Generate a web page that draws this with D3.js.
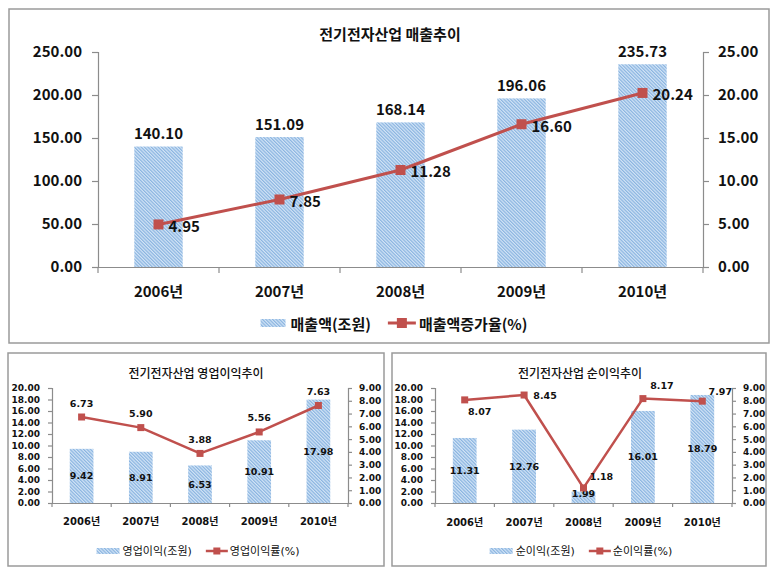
<!DOCTYPE html>
<html><head><meta charset="utf-8">
<script src="https://cdn.jsdelivr.net/npm/d3@7"></script>
<style>body{margin:0;background:#fff} svg{display:block}</style>
</head><body>
<script>
// ---------- data ----------
const years = ["2006년", "2007년", "2008년", "2009년", "2010년"];
const salesValues = [140.10, 151.09, 168.14, 196.06, 235.73];
const salesGrowth = [4.95, 7.85, 11.28, 16.60, 20.24];
const opProfit = [9.42, 8.91, 6.53, 10.91, 17.98];
const opMargin = [6.73, 5.90, 3.88, 5.56, 7.63];
const netProfit = [11.31, 12.76, 1.99, 16.01, 18.79];
const netMargin = [8.07, 8.45, 1.18, 8.17, 7.97];
const salesTicksLeft = [0, 50, 100, 150, 200, 250];
const salesTicksRight = [0, 5, 10, 15, 20, 25];
const profitTicksLeft = [0, 2, 4, 6, 8, 10, 12, 14, 16, 18, 20];
const profitTicksRight = [0, 1, 2, 3, 4, 5, 6, 7, 8, 9];

// ---------- drawing ----------
const W = 775, H = 572;
const svg = d3.select("body").append("svg").attr("width", W).attr("height", H);
const defs = svg.append("defs");
const pat = defs.append("pattern").attr("id", "hatch").attr("patternUnits", "userSpaceOnUse")
  .attr("width", 2.4).attr("height", 2.4).attr("patternTransform", "rotate(-45)");
pat.append("rect").attr("width", 2.4).attr("height", 2.4).attr("fill", "#d2e4f6");
pat.append("rect").attr("width", 1.2).attr("height", 2.4).attr("fill", "#8ab4e0");

const RED = "#c0504d", AXIS = "#8c8c8c";

function drawChart(c) {
  const g = svg.append("g");
  g.append("rect").attr("x", c.box[0]).attr("y", c.box[1]).attr("width", c.box[2]).attr("height", c.box[3])
    .attr("fill", "#fff").attr("stroke", "#9a9a9a").attr("stroke-width", 1.5);
  g.append("text").attr("x", c.titleX).attr("y", c.titleY).attr("text-anchor", "middle")
    .attr("dominant-baseline", "central").style("font-family", c.titleFont).style("font-size", c.titleSize + "px")
    .style("font-weight", c.titleWeight).attr("fill", "#111").text(c.title);

  const x = d3.scaleBand().domain(years).range([c.x0, c.x1]);
  const yL = d3.scaleLinear().domain(c.leftDomain).range([c.yBot, c.yTop]);
  const yR = d3.scaleLinear().domain(c.rightDomain).range([c.yBot, c.yTop]);
  const fmt = d3.format(".2f");
  const tf = (s, size) => s.style("font-family", c.font).style("font-size", (size || c.fontSize) + "px").style("font-weight", "bold").attr("fill", "#111");

  // axes
  const axL = g.append("g").attr("transform", `translate(${c.x0},0)`)
    .call(d3.axisLeft(yL).tickValues(c.ticksL).tickFormat(fmt).tickSize(c.tick).tickPadding(c.pad));
  const axR = g.append("g").attr("transform", `translate(${c.x1},0)`)
    .call(d3.axisRight(yR).tickValues(c.ticksR).tickFormat(fmt).tickSize(c.tick).tickPadding(c.padR));
  const axX = g.append("g").attr("transform", `translate(0,${c.yBot})`)
    .call(d3.axisBottom(x).tickSize(0).tickPadding(0));
  [axL, axR, axX].forEach(a => {
    a.select(".domain").attr("stroke", AXIS).attr("stroke-width", 1.2);
    a.selectAll(".tick line").attr("stroke", AXIS).attr("stroke-width", 1.2);
    a.selectAll("text").call(tf);
  });
  axX.selectAll(".tick text").attr("y", c.xLabelY - c.yBot).attr("dy", "0.35em").call(tf, c.xFontSize);
  // category boundary ticks
  const bounds = years.map(d => x(d)).concat([c.x1]);
  axX.selectAll(".btick").data(bounds).join("line").attr("class", "btick")
    .attr("x1", d => d).attr("x2", d => d).attr("y1", 0).attr("y2", c.tick)
    .attr("stroke", AXIS).attr("stroke-width", 1.2);

  // bars
  const bw = x.bandwidth() * c.barRatio;
  const cx = d => x(d) + x.bandwidth() / 2;
  g.selectAll(".bar").data(c.bars).join("rect")
    .attr("x", (d, i) => cx(years[i]) - bw / 2).attr("width", bw)
    .attr("y", d => yL(d)).attr("height", d => yL(0) - yL(d)).attr("fill", "url(#hatch)");
  g.selectAll(".blab").data(c.bars).join("text")
    .attr("x", (d, i) => cx(years[i]))
    .attr("y", d => c.barLabelMode === "above" ? yL(d) - c.barLabelGap : Math.min((yL(d) + yL(0)) / 2, yL(0) - 10))
    .attr("text-anchor", "middle").attr("dominant-baseline", "central")
    .call(tf, c.valueSize).text(d => fmt(d));

  // line
  const line = d3.line().x((d, i) => cx(years[i])).y(d => yR(d));
  g.append("path").datum(c.line).attr("d", line).attr("fill", "none").attr("stroke", RED)
    .attr("stroke-width", c.lineW).attr("stroke-linejoin", "round");
  g.selectAll(".mk").data(c.line).join("rect")
    .attr("x", (d, i) => cx(years[i]) - c.mk / 2).attr("y", d => yR(d) - c.mk / 2)
    .attr("width", c.mk).attr("height", c.mk).attr("fill", RED);
  g.selectAll(".llab").data(c.line).join("text")
    .attr("x", (d, i) => cx(years[i]) + c.lineLabelOff[i][0])
    .attr("y", (d, i) => yR(d) + c.lineLabelOff[i][1])
    .attr("text-anchor", c.lineLabelAnchor).attr("dominant-baseline", "central")
    .call(tf, c.valueSize).text(d => fmt(d));

  // legend
  const lg = g.append("g");
  const L = c.legend;
  const t1 = lg.append("text").attr("dominant-baseline", "central").style("font-family", L.font)
    .style("font-size", L.size + "px").style("font-weight", L.weight).attr("fill", "#111").text(c.legendNames[0]);
  const t2 = lg.append("text").attr("dominant-baseline", "central").style("font-family", L.font)
    .style("font-size", L.size + "px").style("font-weight", L.weight).attr("fill", "#111").text(c.legendNames[1]);
  const w1 = t1.node().getComputedTextLength(), w2 = t2.node().getComputedTextLength();
  const total = L.sw + L.gap + w1 + L.gap2 + L.lw + L.gap3 + w2;
  let px = L.cx - total / 2;
  lg.append("rect").attr("x", px).attr("y", L.y - L.sh / 2).attr("width", L.sw).attr("height", L.sh).attr("fill", "url(#hatch)");
  px += L.sw + L.gap;
  t1.attr("x", px).attr("y", L.y);
  px += w1 + L.gap2;
  lg.append("line").attr("x1", px).attr("x2", px + L.lw).attr("y1", L.y).attr("y2", L.y)
    .attr("stroke", RED).attr("stroke-width", c.lineW);
  lg.append("rect").attr("x", px + L.lw / 2 - c.mk / 2).attr("y", L.y - c.mk / 2).attr("width", c.mk).attr("height", c.mk).attr("fill", RED);
  px += L.lw + L.gap3;
  t2.attr("x", px).attr("y", L.y);
}

const KR = "'Noto Sans CJK KR', sans-serif";
const DV = "'DejaVu Sans', 'Noto Sans CJK KR', sans-serif";

drawChart({
  box: [9, 9, 760, 334], title: "전기전자산업 매출추이", titleX: 390, titleY: 33,
  titleFont: KR, titleSize: 15, titleWeight: "bold",
  x0: 98, x1: 703, yTop: 52, yBot: 267, leftDomain: [0, 250], rightDomain: [0, 25],
  ticksL: salesTicksLeft, ticksR: salesTicksRight, tick: 6, pad: 10, padR: 9,
  font: KR, fontSize: 15, xFontSize: 15, valueSize: 15, xLabelY: 292,
  bars: salesValues, line: salesGrowth, barRatio: 0.4, barLabelMode: "above", barLabelGap: 14,
  lineW: 3, mk: 10, lineLabelAnchor: "start",
  lineLabelOff: [[10, 1], [10, 1], [10, 1], [10, 1], [10, 1]],
  legendNames: ["매출액(조원)", "매출액증가율(%)"],
  legend: { cx: 394, y: 323, font: KR, size: 15, weight: "bold", sw: 25, sh: 8, gap: 5, gap2: 17, lw: 28, gap3: 3 }
});

drawChart({
  box: [8, 353, 376, 213], title: "전기전자산업 영업이익추이", titleX: 196, titleY: 372,
  titleFont: KR, titleSize: 12, titleWeight: "500",
  x0: 52, x1: 348, yTop: 388, yBot: 503, leftDomain: [0, 20], rightDomain: [0, 9],
  ticksL: profitTicksLeft, ticksR: profitTicksRight, tick: 4, pad: 8, padR: 7,
  font: DV, fontSize: 9, xFontSize: 10, valueSize: 9.5, xLabelY: 521,
  bars: opProfit, line: opMargin, barRatio: 0.4, barLabelMode: "center",
  lineW: 2.5, mk: 7, lineLabelAnchor: "middle",
  lineLabelOff: [[0, -14], [0, -14], [0, -14], [0, -14], [0, -14]],
  legendNames: ["영업이익(조원)", "영업이익률(%)"],
  legend: { cx: 198, y: 551, font: DV, size: 11, weight: "normal", sw: 23, sh: 6, gap: 3, gap2: 14, lw: 22, gap3: 2 }
});

drawChart({
  box: [392, 353, 374, 213], title: "전기전자산업 순이익추이", titleX: 580, titleY: 372,
  titleFont: KR, titleSize: 12, titleWeight: "500",
  x0: 435, x1: 732, yTop: 388, yBot: 503, leftDomain: [0, 20], rightDomain: [0, 9],
  ticksL: profitTicksLeft, ticksR: profitTicksRight, tick: 4, pad: 8, padR: 7,
  font: DV, fontSize: 9, xFontSize: 10, valueSize: 9.5, xLabelY: 522,
  bars: netProfit, line: netMargin, barRatio: 0.4, barLabelMode: "center",
  lineW: 2.5, mk: 7, lineLabelAnchor: "middle",
  lineLabelOff: [[15, 12], [21, 0], [18, -11], [19, -13], [18, -10]],
  legendNames: ["순이익(조원)", "순이익률(%)"],
  legend: { cx: 581, y: 551, font: DV, size: 11, weight: "normal", sw: 23, sh: 6, gap: 3, gap2: 14, lw: 22, gap3: 2 }
});
</script>
</body></html>
